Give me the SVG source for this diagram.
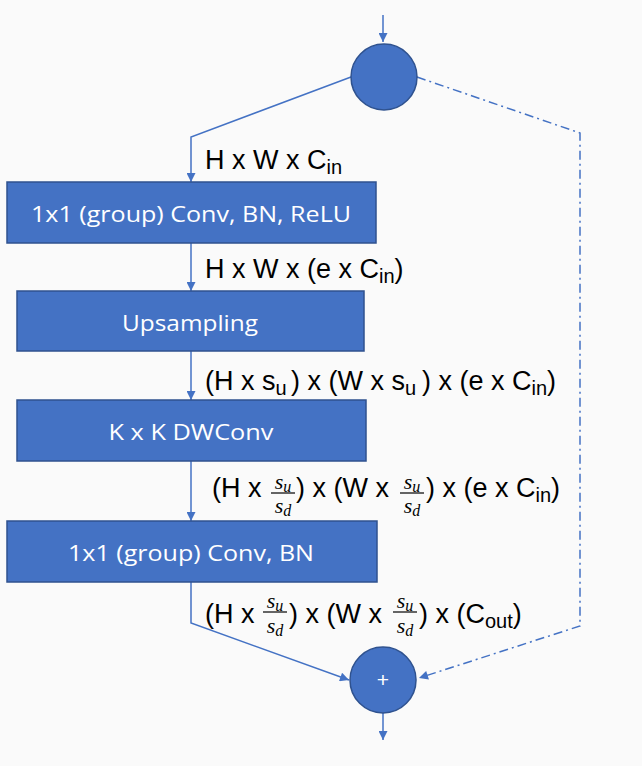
<svg xmlns="http://www.w3.org/2000/svg" width="642" height="766" viewBox="0 0 642 766">
<defs>
<marker id="ah" viewBox="0 0 10 10" refX="10" refY="5" markerWidth="10" markerHeight="9" markerUnits="userSpaceOnUse" orient="auto">
<path d="M0,0 L10,5 L0,10 z" fill="#4472c4"/>
</marker>
</defs>
<style>
.bg{fill:#fafafa}
.box{fill:#4472c4;stroke:#2f528f;stroke-width:1.5}
.circ{fill:#4472c4;stroke:#2f528f;stroke-width:1.5}
.bt{font-family:"Open Sans","Noto Sans","Liberation Sans",sans-serif;font-size:22px;fill:#ffffff;text-anchor:middle}
.ln{fill:none;stroke:#4472c4;stroke-width:1.5}
.dd{fill:none;stroke:#4472c4;stroke-width:1.5;stroke-dasharray:9 4 2 4}
.lb{font-family:"Liberation Sans",Arial,sans-serif;font-size:27px;fill:#000000}
.sb{font-size:20px}
.mi{font-family:"Liberation Serif","DejaVu Serif",serif;font-style:italic;font-size:22px;fill:#000000;text-anchor:middle}
.ms{font-size:16px}
.bar{stroke:#000000;stroke-width:1.2}
</style>
<rect class="bg" x="0" y="0" width="642" height="766"/>

<g id="connectors">
<line class="ln" x1="383" y1="15" x2="383" y2="42" marker-end="url(#ah)"/>
<polyline class="ln" points="351,77 191,137 191,182" marker-end="url(#ah)"/>
<line class="ln" x1="191" y1="243" x2="191" y2="291" marker-end="url(#ah)"/>
<line class="ln" x1="191" y1="351" x2="191" y2="400" marker-end="url(#ah)"/>
<line class="ln" x1="191" y1="461" x2="191" y2="521" marker-end="url(#ah)"/>
<polyline class="ln" points="191,582 191,623 349,680" marker-end="url(#ah)"/>
<polyline class="dd" points="417,77 580,133 580,626 419,678" marker-end="url(#ah)"/>
<line class="ln" x1="383" y1="713" x2="383" y2="740" marker-end="url(#ah)"/>
</g>

<g id="split">
<circle class="circ" cx="384" cy="77" r="33"/>
</g>

<g id="conv1">
<rect class="box" x="7" y="182" width="369" height="61"/>
<text class="bt" x="191" y="222" textLength="320" lengthAdjust="spacingAndGlyphs">1x1 (group) Conv, BN, ReLU</text>
</g>

<g id="upsampling">
<rect class="box" x="17" y="291" width="347" height="60"/>
<text class="bt" x="190" y="331" textLength="136" lengthAdjust="spacingAndGlyphs">Upsampling</text>
</g>

<g id="dwconv">
<rect class="box" x="17" y="400" width="349" height="61"/>
<text class="bt" x="191" y="440" textLength="165" lengthAdjust="spacingAndGlyphs">K x K DWConv</text>
</g>

<g id="conv2">
<rect class="box" x="7" y="521" width="370" height="61"/>
<text class="bt" x="191" y="561" textLength="246" lengthAdjust="spacingAndGlyphs">1x1 (group) Conv, BN</text>
</g>

<g id="add">
<circle class="circ" cx="383" cy="680" r="33"/>
<text x="383" y="687" font-family="Liberation Sans,Arial,sans-serif" font-size="21" fill="#ffffff" text-anchor="middle">+</text>
</g>

<g id="labels">
<text class="lb" y="169"><tspan x="205">H x W x C</tspan><tspan class="sb" dy="5">in</tspan></text>
<text class="lb" y="278"><tspan x="205">H x W x (e x C</tspan><tspan class="sb" dy="5">in</tspan><tspan dy="-5">)</tspan></text>
<text class="lb" y="390"><tspan x="205">(H x s</tspan><tspan class="sb" dy="5">u</tspan><tspan x="291" dy="-5">) x (W x s</tspan><tspan class="sb" dy="5">u</tspan><tspan x="422" dy="-5">) x (e x C</tspan><tspan class="sb" dy="5">in</tspan><tspan dy="-5">)</tspan></text>

<text class="lb" y="497"><tspan x="212">(H x </tspan><tspan x="296">) x (W x </tspan><tspan x="426">) x (e x C</tspan><tspan class="sb" dy="5">in</tspan><tspan dy="-5">)</tspan></text>
<text class="mi" x="283" y="489">s<tspan class="ms" dy="3">u</tspan></text>
<line class="bar" x1="271" y1="493" x2="295" y2="493"/>
<text class="mi" x="283" y="513">s<tspan class="ms" dy="3">d</tspan></text>
<text class="mi" x="412" y="489">s<tspan class="ms" dy="3">u</tspan></text>
<line class="bar" x1="400" y1="493" x2="424" y2="493"/>
<text class="mi" x="412" y="513">s<tspan class="ms" dy="3">d</tspan></text>

<text class="lb" y="623"><tspan x="205">(H x </tspan><tspan x="289">) x (W x </tspan><tspan x="419">) x (C</tspan><tspan class="sb" dy="5">out</tspan><tspan dy="-5">)</tspan></text>
<text class="mi" x="275" y="608">s<tspan class="ms" dy="3">u</tspan></text>
<line class="bar" x1="263" y1="612" x2="287" y2="612"/>
<text class="mi" x="275" y="633">s<tspan class="ms" dy="3">d</tspan></text>
<text class="mi" x="405" y="608">s<tspan class="ms" dy="3">u</tspan></text>
<line class="bar" x1="393" y1="612" x2="417" y2="612"/>
<text class="mi" x="405" y="633">s<tspan class="ms" dy="3">d</tspan></text>
</g>
</svg>
